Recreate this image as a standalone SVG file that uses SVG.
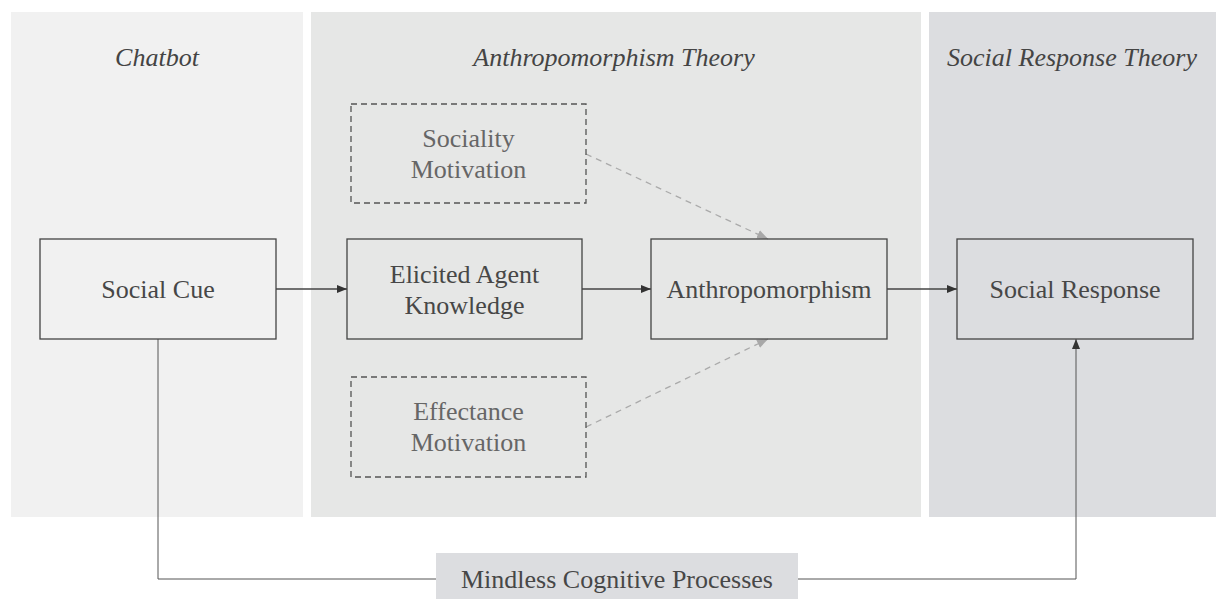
<svg xmlns="http://www.w3.org/2000/svg" width="1216" height="599" viewBox="0 0 1216 599">
  <style>
    .hdr { font-family: "Liberation Serif", "Times New Roman", serif; font-style: italic; font-size: 26px; fill: #444; text-anchor: middle; }
    .lbl { font-family: "Liberation Serif", "Times New Roman", serif; font-size: 26px; fill: #474747; text-anchor: middle; }
    .lbl-soft { font-family: "Liberation Serif", "Times New Roman", serif; font-size: 26px; fill: #666; text-anchor: middle; }
    .box { fill: none; stroke: #444; stroke-width: 1.3; }
    .dbox { fill: none; stroke: #555; stroke-width: 1.3; stroke-dasharray: 6 4; }
    .flow { fill: none; stroke: #444; stroke-width: 1.3; }
    .thin { fill: none; stroke: #555; stroke-width: 1; }
    .dflow { fill: none; stroke: #aaa; stroke-width: 1.3; stroke-dasharray: 6 5; }
  </style>
  <defs>
    <marker id="arr" viewBox="0 0 10 10" refX="10" refY="5" markerWidth="10" markerHeight="10" markerUnits="userSpaceOnUse" orient="auto">
      <path d="M0,1 L10,5 L0,9 Z" fill="#333"/>
    </marker>
    <marker id="arr-grey" viewBox="0 0 10 10" refX="10" refY="5" markerWidth="11" markerHeight="11" markerUnits="userSpaceOnUse" orient="auto">
      <path d="M0,1 L10,5 L0,9 Z" fill="#a8a8a8"/>
    </marker>
  </defs>

  <rect width="1216" height="599" fill="#ffffff"/>

  <!-- background panels -->
  <g id="panels">
    <rect x="11" y="12" width="292" height="505" fill="#f1f1f1"/>
    <rect x="311" y="12" width="610" height="505" fill="#e6e7e6"/>
    <rect x="929" y="12" width="287" height="505" fill="#dcdde0"/>
    <text class="hdr" x="157" y="66">Chatbot</text>
    <text class="hdr" x="614" y="66">Anthropomorphism Theory</text>
    <text class="hdr" x="1072" y="66">Social Response Theory</text>
  </g>

  <!-- connectors -->
  <g id="connectors">
    <line class="flow" x1="276" y1="289" x2="347" y2="289" marker-end="url(#arr)"/>
    <line class="flow" x1="582" y1="289" x2="651" y2="289" marker-end="url(#arr)"/>
    <line class="flow" x1="887" y1="289" x2="957" y2="289" marker-end="url(#arr)"/>
    <line class="dflow" x1="586" y1="154" x2="768" y2="239" marker-end="url(#arr-grey)"/>
    <line class="dflow" x1="586" y1="427" x2="768" y2="339" marker-end="url(#arr-grey)"/>
    <polyline class="thin" points="158,339 158,579 436,579"/>
    <polyline class="thin" points="798,579 1076,579 1076,339" marker-end="url(#arr)"/>
  </g>

  <g id="social-cue">
    <rect class="box" x="40" y="239" width="236" height="100"/>
    <text class="lbl" x="158" y="298">Social Cue</text>
  </g>

  <g id="elicited-agent-knowledge">
    <rect class="box" x="347" y="239" width="235" height="100"/>
    <text class="lbl" x="464.5" y="283">Elicited Agent</text>
    <text class="lbl" x="464.5" y="314">Knowledge</text>
  </g>

  <g id="anthropomorphism">
    <rect class="box" x="651" y="239" width="236" height="100"/>
    <text class="lbl" x="769" y="298">Anthropomorphism</text>
  </g>

  <g id="social-response">
    <rect class="box" x="957" y="239" width="236" height="100"/>
    <text class="lbl" x="1075" y="298">Social Response</text>
  </g>

  <g id="sociality-motivation">
    <rect class="dbox" x="351" y="104" width="235" height="99"/>
    <text class="lbl-soft" x="468.5" y="147">Sociality</text>
    <text class="lbl-soft" x="468.5" y="178">Motivation</text>
  </g>

  <g id="effectance-motivation">
    <rect class="dbox" x="351" y="377" width="235" height="100"/>
    <text class="lbl-soft" x="468.5" y="420">Effectance</text>
    <text class="lbl-soft" x="468.5" y="451">Motivation</text>
  </g>

  <g id="mindless-cognitive-processes">
    <rect x="436" y="553" width="362" height="46" fill="#dcdde0"/>
    <text class="lbl" x="617" y="588">Mindless Cognitive Processes</text>
  </g>
</svg>
